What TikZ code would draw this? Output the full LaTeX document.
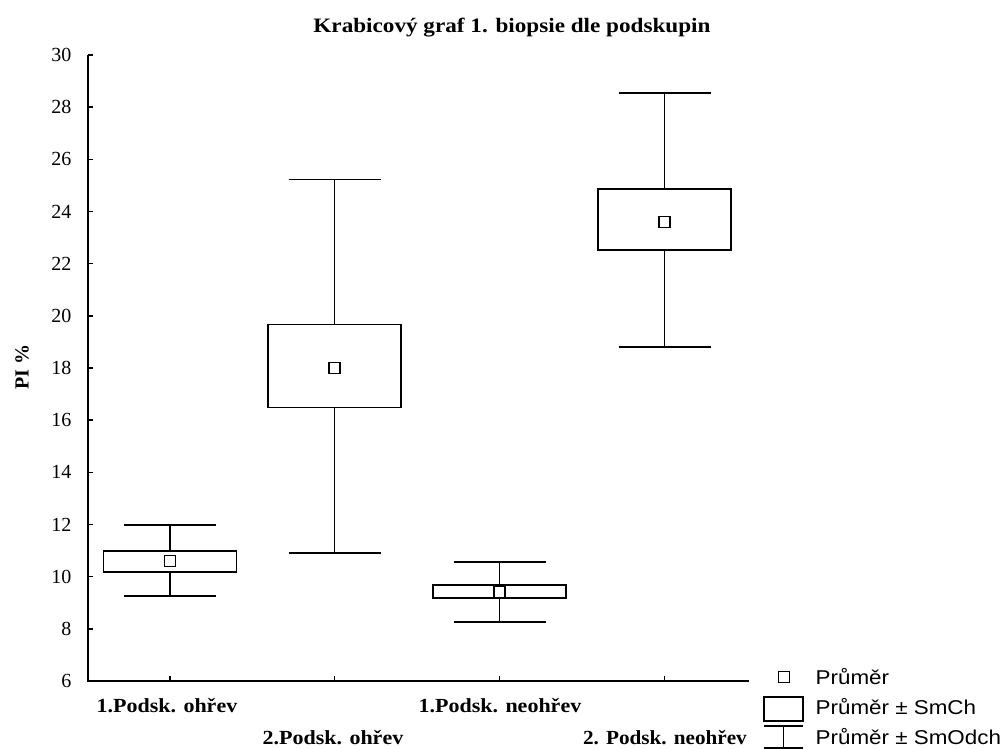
\documentclass[tikz,border=0pt]{standalone}
\usepackage{graphicx}
\usepackage{fontspec}
\setmainfont{Liberation Serif}
\newfontfamily\legendfont{Liberation Sans}
% horizontally widened text, as the chart's labels are set rather wide
\newcommand\widetext[2]{\scalebox{#1}[1]{#2}}
\begin{document}
\begin{tikzpicture}[x=1pt,y=1pt,line width=1.4pt,
  meanbox/.style={draw,line width=1.4pt,fill=white,minimum size=11pt,inner sep=0pt},
  ticklab/.style={anchor=east,font=\fontsize{20}{20}\selectfont,inner sep=0pt},
  catlab/.style={font=\bfseries\fontsize{20}{20}\selectfont,inner sep=0pt},
  titlelab/.style={font=\bfseries\fontsize{20.5}{20.5}\selectfont,inner sep=0pt},
  legtext/.style={anchor=west,font=\legendfont\fontsize{20}{20}\selectfont,inner sep=0pt}]
\useasboundingbox (0,0) rectangle (1005,749);

% title and axis label
\node[titlelab] (title) at (512,721) {\widetext{1.13}{Krabicový graf 1. biopsie dle podskupin}};
\node[titlelab,rotate=90,font=\bfseries\fontsize{20}{20}\selectfont] (ylab) at (22,382) {PI \%};

% data area: y in data units (6..30)
\begin{scope}[yshift=-88.5pt,y=26.083pt]
  \coordinate (origin) at (88,6);
  \coordinate (ytop) at (88,30);
  \coordinate (xend) at (749,6);
  \draw (ytop) -- (origin) -- (xend);
  \foreach \v in {6,8,...,30} {
    \draw (88,\v) -- ++(4.5pt,0);
    \node[ticklab] (yl\v) at (72,\v) {\v};
  }
  \foreach \c/\wt/\bt/\bb/\wb/\m [count=\i] in
    {170/11.98/10.98/10.18/9.26/10.60,
     334.5/25.22/19.66/16.48/10.90/18.00,
     499.5/10.56/9.68/9.18/8.26/9.41,
     664.5/28.54/24.86/22.52/18.80/23.60} {
    \draw (\c,6) -- ++(0,5pt);
    \coordinate (wt\i) at (\c,\wt);
    \coordinate (bt\i) at (\c,\bt);
    \coordinate (bb\i) at (\c,\bb);
    \coordinate (wb\i) at (\c,\wb);
    \draw ([xshift=-46pt]wt\i) -- ([xshift=46pt]wt\i);
    \draw (wt\i) -- (bt\i);
    \draw ([xshift=-66.5pt]bt\i) rectangle ([xshift=66.5pt]bb\i);
    \draw (bb\i) -- (wb\i);
    \draw ([xshift=-46pt]wb\i) -- ([xshift=46pt]wb\i);
    \node[meanbox] (m\i) at (\c,\m) {};
  }
\end{scope}

% category labels
\node[catlab] (c1) at (167,43) {\widetext{1.1}{1.Podsk. ohřev}};
\node[catlab] (c2) at (333,11) {\widetext{1.1}{2.Podsk. ohřev}};
\node[catlab] (c3) at (500,43) {\widetext{1.1}{1.Podsk. neohřev}};
\node[catlab] (c4) at (665,11) {\widetext{1.06}{2. Podsk. neohřev}};

% legend
\node[meanbox] (lmean) at (784,72) {};
\node[draw,line width=1.4pt,minimum width=39pt,minimum height=24pt,inner sep=0pt] (lbox) at (783.5,40) {};
\coordinate (lt) at (783.5,23);
\coordinate (lb) at (783.5,1);
\draw ([xshift=-19.5pt]lt) -- ([xshift=19.5pt]lt);
\draw (lt) -- (lb);
\draw ([xshift=-19.5pt]lb) -- ([xshift=19.5pt]lb);
\node[legtext] (t1) at (815,72) {\widetext{1.12}{Průměr}};
\node[legtext] (t2) at (815,42) {\widetext{1.12}{Průměr ± SmCh}};
\node[legtext] (t3) at (815,12) {\widetext{1.12}{Průměr ± SmOdch}};
\end{tikzpicture}
\end{document}
